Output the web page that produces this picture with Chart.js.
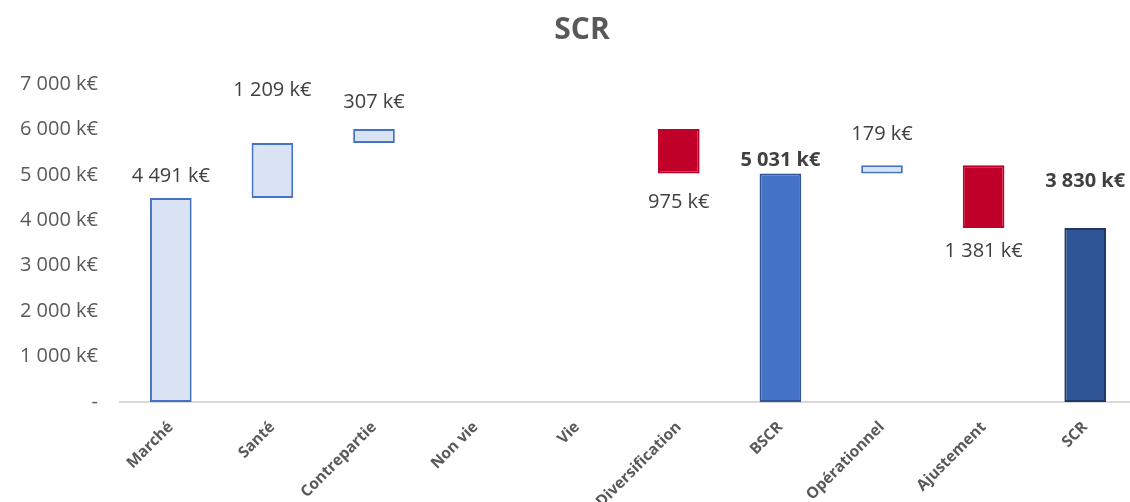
<!DOCTYPE html>
<html lang="fr">
<head>
  <meta charset="UTF-8">
  <title>SCR</title>
  <script src="https://cdn.jsdelivr.net/npm/chart.js"></script>
  <style>
    html, body { margin: 0; padding: 0; background: #fff; overflow: hidden; }
    /* plot runs a few px past the right edge, as in the original */
    #wrap { width: 1136px; height: 502px; }
  </style>
</head>
<body>
  <div id="wrap"><canvas id="scrChart"></canvas></div>

  <script>
    // Chart data
    const categories = ['Marché', 'Santé', 'Contrepartie', 'Non vie', 'Vie', 'Diversification', 'BSCR', 'Opérationnel', 'Ajustement', 'SCR'];
    const values = [4491, 1209, 307, 0, 0, -975, 5031, 179, -1381, 3830];
    const isTotal = [false, false, false, false, false, false, true, false, false, true];
    const yTicks = [0, 1000, 2000, 3000, 4000, 5000, 6000, 7000];

    // label gap from the bar edge (px), as laid out in the original
    const labelGap = [22, 53, 27, 0, 0, 29, 13, 31, 23, 47];

    const fmt = v => String(Math.abs(v)).replace(/\B(?=(\d{3})+(?!\d))/g, ' ');

    // build floating bars for the waterfall
    let running = 0;
    const bars = values.map((v, i) => {
      if (isTotal[i]) { running = v; return [0, v]; }
      if (v === 0) return null;
      const seg = [running, running + v];
      running += v;
      return seg;
    });

    const fills = values.map((v, i) => {
      if (i === 6) return '#4472C4';
      if (i === 9) return '#2F5597';
      return v < 0 ? '#C00028' : '#DAE3F3';
    });
    const borders = values.map((v, i) => {
      if (i === 6) return '#2F5597';
      if (i === 9) return '#203864';
      return v < 0 ? '#C00028' : '#4472C4';
    });

    const valueLabels = {
      id: 'valueLabels',
      afterDatasetsDraw(chart) {
        const ctx = chart.ctx;
        const meta = chart.getDatasetMeta(0);
        ctx.save();
        ctx.textAlign = 'center';
        ctx.textBaseline = 'middle';
        ctx.fillStyle = '#404040';
        meta.data.forEach((el, i) => {
          if (!bars[i]) return;
          const top = Math.min(el.y, el.base);
          const bottom = Math.max(el.y, el.base);
          ctx.font = (isTotal[i] ? 'bold ' : '') + '20px "Open Sans"';
          const y = values[i] < 0 ? bottom + labelGap[i] : top - labelGap[i];
          ctx.fillText(fmt(values[i]) + ' k€', el.x, y);
        });
        ctx.restore();
      }
    };

    new Chart(document.getElementById('scrChart'), {
      type: 'bar',
      data: {
        labels: categories,
        datasets: [{
          data: bars,
          backgroundColor: fills,
          borderColor: borders,
          borderWidth: 2,
          borderSkipped: false,
          barPercentage: 0.41,
          categoryPercentage: 1
        }]
      },
      options: {
        responsive: true,
        maintainAspectRatio: false,
        animation: false,
        // negative right padding only moves the title box (centre ~582px)
        layout: { padding: { top: 0, right: -28, bottom: 0, left: 0 } },
        plugins: {
          legend: { display: false },
          tooltip: { enabled: false },
          title: {
            display: true,
            text: 'SCR',
            color: '#595959',
            font: { family: 'Open Sans', size: 30, weight: 'bold' },
            padding: { top: 12, bottom: 36 }
          }
        },
        scales: {
          x: {
            grid: { display: false, drawTicks: false },
            border: { color: '#D9D9D9', width: 2 },
            ticks: {
              color: '#595959',
              font: { family: 'Open Sans', size: 15.5, weight: 'bold' },
              minRotation: 45,
              maxRotation: 45,
              padding: 16,
              autoSkip: false
            },
            afterFit: scale => {
              scale.height = 100;
              scale.paddingLeft = 0;
              scale.paddingRight = 0;
            }
          },
          y: {
            min: 0,
            max: 7000,
            afterBuildTicks: scale => { scale.ticks = yTicks.map(v => ({ value: v })); },
            grid: { display: false, drawTicks: false },
            border: { display: false },
            ticks: {
              color: '#595959',
              font: { family: 'Open Sans', size: 20 },
              padding: 22,
              callback: v => v === 0 ? '-' : fmt(v) + ' k€'
            },
            afterFit: scale => { scale.width = 120; }
          }
        }
      },
      plugins: [valueLabels]
    });
  </script>
</body>
</html>
